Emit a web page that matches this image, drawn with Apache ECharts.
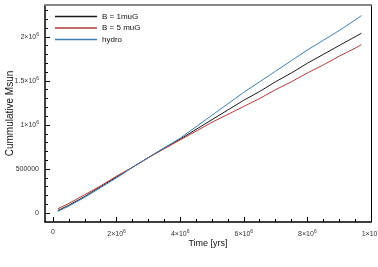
<!DOCTYPE html>
<html><head><meta charset="utf-8">
<script src="https://cdn.jsdelivr.net/npm/echarts@6/dist/echarts.min.js"></script>
<style>html,body{margin:0;padding:0;background:#fff}#c{width:378px;height:267px}</style>
</head><body><div id="c"></div>
<script>
// time in Myr (scaled to years below)
var timeMyr = [0.15,0.5,1,1.5,2,2.5,3,3.5,4,4.5,5,5.5,6,6.5,7,7.5,8,8.5,9,9.5,9.7];
// cumulative mass in 1e6 Msun
var b1muG = [0.03,0.09,0.19,0.30,0.41,0.52,0.63,0.74,0.84,0.95,1.06,1.17,1.28,1.38,1.49,1.59,1.70,1.80,1.90,2.00,2.04];
var b5muG = [0.05,0.11,0.21,0.31,0.42,0.52,0.63,0.73,0.83,0.93,1.03,1.12,1.21,1.30,1.40,1.49,1.59,1.68,1.78,1.87,1.91];
var hydro = [0.02,0.08,0.18,0.29,0.40,0.52,0.63,0.74,0.85,0.98,1.11,1.24,1.37,1.49,1.61,1.73,1.85,1.96,2.07,2.19,2.24];
var seriesNames = ['B = 1muG','B = 5 muG','hydro'];
var seriesColors = ['#1a1a1a','#b23a3a','#3d7fb5'];
var xMajor = [0,2e6,4e6,6e6,8e6,1e7];
var xMajorLabels = ['0','2×10{s|6}','4×10{s|6}','6×10{s|6}','8×10{s|6}','1×10{s|7}'];
var yMajor = [0,5e5,1e6,1.5e6,2e6];
var yMajorLabels = ['0','500000','1×10{s|6}','1.5×10{s|6}','2×10{s|6}'];
var xMinor = [];
for (var i = 1; i < 20; i++) if (i % 4 !== 0) xMinor.push(i * 5e5);
var yMinor = [];
for (var j = 1; j <= 23; j++) if (j % 5 !== 0) yMinor.push(j * 1e5);

function pairs(vals){ return timeMyr.map(function(t,k){ return [t*1e6, vals[k]*1e6]; }); }
var XMIN = -250000, XMAX = 1e7, YMIN = -100000, YMAX = 2360000;
var FONT = 'Liberation Sans, Arial, sans-serif';
var rich = { s: { fontSize: 5, padding: [0,0,5,0], color: '#333', fontFamily: FONT } };

var chart = echarts.init(document.getElementById('c'), null, {renderer:'canvas'});
chart.setOption({
  animation: false,
  grid: { left: 45, right: 7, top: 5, bottom: 45, containLabel: false, outerBoundsMode: 'none' },
  legend: {
    left: 55, top: 12, padding: 0, orient: 'vertical', icon: 'rect', itemWidth: 42, itemHeight: 1.5,
    itemGap: 2.5, textStyle: { fontSize: 8, fontFamily: FONT, color: '#111', lineHeight: 9 },
    data: seriesNames.map(function(n,k){ return { name: n, itemStyle: { color: seriesColors[k] } }; })
  },
  xAxis: [
    { type: 'value', min: XMIN, max: XMAX, position: 'bottom',
      name: 'Time [yrs]', nameLocation: 'middle', nameGap: 17, nameMoveOverlap: false,
      nameTextStyle: { fontSize: 9, fontFamily: FONT, color: '#111' },
      axisLine: { show: true, onZero: false, lineStyle: { color: '#000', width: 1.5 } },
      axisTick: { show: true, inside: true, length: 5, customValues: xMajor, lineStyle: { color: '#000' } },
      axisLabel: { customValues: xMajor, margin: 7, fontSize: 7, fontFamily: FONT, color: '#333', rich: rich,
        formatter: function(v){ var k = xMajor.indexOf(v); return k >= 0 ? xMajorLabels[k] : ''; } },
      splitLine: { show: false } },
    { type: 'value', min: XMIN, max: XMAX, position: 'bottom',
      axisLine: { show: false, onZero: false },
      axisTick: { show: true, inside: true, length: 3, customValues: xMinor, lineStyle: { color: '#000' } },
      axisLabel: { show: false }, splitLine: { show: false } },
    { type: 'value', min: XMIN, max: XMAX, position: 'top',
      axisLine: { show: true, onZero: false, lineStyle: { color: '#888', width: 2 } },
      axisTick: { show: false }, axisLabel: { show: false }, splitLine: { show: false } }
  ],
  yAxis: [
    { type: 'value', min: YMIN, max: YMAX, position: 'left',
      name: 'Cummulative Msun', nameLocation: 'middle', nameGap: 30, nameMoveOverlap: false,
      nameTextStyle: { fontSize: 10, fontFamily: FONT, color: '#111' },
      axisLine: { show: true, onZero: false, lineStyle: { color: '#000', width: 1.5 } },
      axisTick: { show: true, inside: true, length: 5, customValues: yMajor, lineStyle: { color: '#000' } },
      axisLabel: { customValues: yMajor, margin: 6, fontSize: 7, fontFamily: FONT, color: '#333', rich: rich,
        formatter: function(v){ var k = yMajor.indexOf(v); return k >= 0 ? yMajorLabels[k] : ''; } },
      splitLine: { show: false } },
    { type: 'value', min: YMIN, max: YMAX, position: 'left',
      axisLine: { show: false, onZero: false },
      axisTick: { show: true, inside: true, length: 3, customValues: yMinor, lineStyle: { color: '#000' } },
      axisLabel: { show: false }, splitLine: { show: false } },
    { type: 'value', min: YMIN, max: YMAX, position: 'right',
      axisLine: { show: true, onZero: false, lineStyle: { color: '#000', width: 1 } },
      axisTick: { show: false }, axisLabel: { show: false }, splitLine: { show: false } }
  ],
  series: [
    { name: seriesNames[0], type: 'line', data: pairs(b1muG), showSymbol: false, color: seriesColors[0], lineStyle: { width: 1 } },
    { name: seriesNames[1], type: 'line', data: pairs(b5muG), showSymbol: false, color: seriesColors[1], lineStyle: { width: 1 } },
    { name: seriesNames[2], type: 'line', data: pairs(hydro), showSymbol: false, color: seriesColors[2], lineStyle: { width: 1 } }
  ]
});
</script></body></html>
